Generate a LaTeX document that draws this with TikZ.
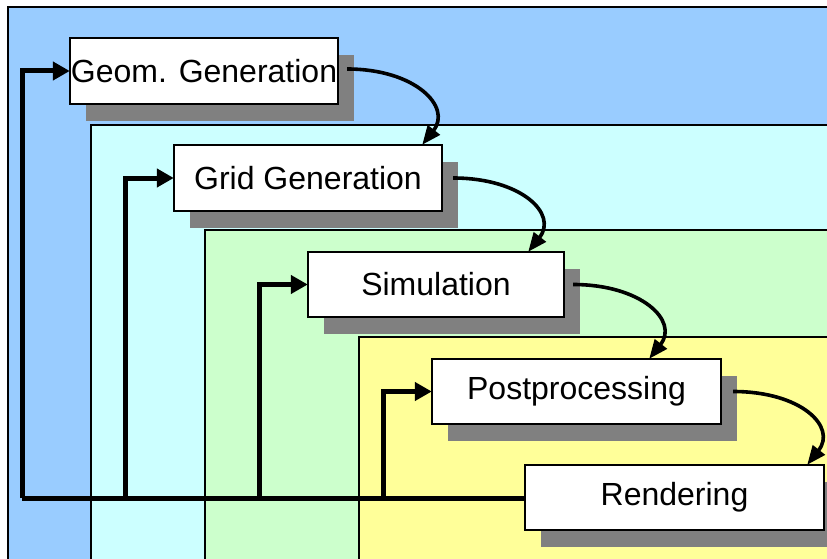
\documentclass[tikz,border=0pt]{standalone}
\usepackage{fontspec}
\setmainfont{Liberation Sans}
\usetikzlibrary{arrows.meta,calc}
\definecolor{layerA}{HTML}{99CCFF}
\definecolor{layerB}{HTML}{CCFFFF}
\definecolor{layerC}{HTML}{CCFFCC}
\definecolor{layerD}{HTML}{FFFF99}
\definecolor{shadowgray}{HTML}{808080}
\tikzset{
  layer/.style={draw=black,line width=1.8pt},
  stage/.style={draw=black,fill=white,line width=2.5pt,inner sep=0pt,
    font=\fontsize{32}{37}\selectfont},
  flow/.style={line width=3.6pt,-{Triangle[length=19pt,width=15pt]}},
  feedback/.style={line width=5pt,line join=miter,-{Triangle[length=17pt,width=18pt]}},
  trunk/.style={line width=5pt,line join=miter}
}
\newcommand{\stageshadow}[1]{%
  \fill[shadowgray] ($(#1.south west)+(16,17)$) rectangle ($(#1.north east)+(16,17)$);}
\begin{document}
\begin{tikzpicture}[x=1pt,y=-1pt]
\useasboundingbox (0,0) rectangle (827,559);
\clip (0,0) rectangle (827,559);
% nested layers
\draw[layer,fill=layerA] (8,7) rectangle (860,590);
\draw[layer,fill=layerB] (91,125) rectangle (860,590);
\draw[layer,fill=layerC] (205,230) rectangle (860,590);
\draw[layer,fill=layerD] (359,337) rectangle (860,590);

% stage boxes (positioned invisibly first, so shadows go underneath)
\path (204,71)    node[minimum width=268pt,minimum height=66pt] (geom) {}
      (308,178)   node[minimum width=268pt,minimum height=66pt] (grid) {}
      (436,284.5) node[minimum width=256pt,minimum height=65pt] (sim) {}
      (576.5,391.5) node[minimum width=289pt,minimum height=65pt] (post) {}
      (674.5,497.5) node[minimum width=299pt,minimum height=65pt] (rend) {};

% feedback trunk and branches
\coordinate (jA) at (22,498);
\coordinate (jB) at (125,498);
\coordinate (jC) at (259,498);
\coordinate (jD) at (383,498);
\draw[trunk] (rend.west |- jA) -- (jA);
\draw[feedback] (jA) |- (geom.west);
\draw[feedback] (jB) |- (grid.west);
\draw[feedback] (jC) |- (sim.west);
\draw[feedback] (jD) |- (post.west);

\stageshadow{geom}
\stageshadow{grid}
\stageshadow{sim}
\stageshadow{post}
\stageshadow{rend}

\node[stage,minimum width=268pt,minimum height=66pt] at (geom) {Geom. Generation};
\node[stage,minimum width=268pt,minimum height=66pt] at (grid) {Grid Generation};
\node[stage,minimum width=256pt,minimum height=65pt] at (sim) {Simulation};
\node[stage,minimum width=289pt,minimum height=65pt] at (post) {Postprocessing};
\node[stage,minimum width=299pt,minimum height=65pt] at (rend) {Rendering};

% forward flow between stages
\coordinate (s1) at ($(geom.east)+(9,-2)$);
\coordinate (t1) at ($(grid.north east)+(-20,0)$);
\coordinate (s2) at ($(grid.east)+(11,0)$);
\coordinate (t2) at ($(sim.north east)+(-36,0)$);
\coordinate (s3) at ($(sim.east)+(9,0)$);
\coordinate (t3) at ($(post.north east)+(-72,0)$);
\coordinate (s4) at ($(post.east)+(12,0)$);
\coordinate (t4) at ($(rend.north east)+(-17,0)$);
\draw[flow] (s1) .. controls ($(s1)+(68,0)$) and ($(t1)+(30,-38)$) .. (t1);
\draw[flow] (s2) .. controls ($(s2)+(68,0)$) and ($(t2)+(30,-38)$) .. (t2);
\draw[flow] (s3) .. controls ($(s3)+(68,0)$) and ($(t3)+(30,-38)$) .. (t3);
\draw[flow] (s4) .. controls ($(s4)+(68,0)$) and ($(t4)+(30,-38)$) .. (t4);
\end{tikzpicture}
\end{document}
